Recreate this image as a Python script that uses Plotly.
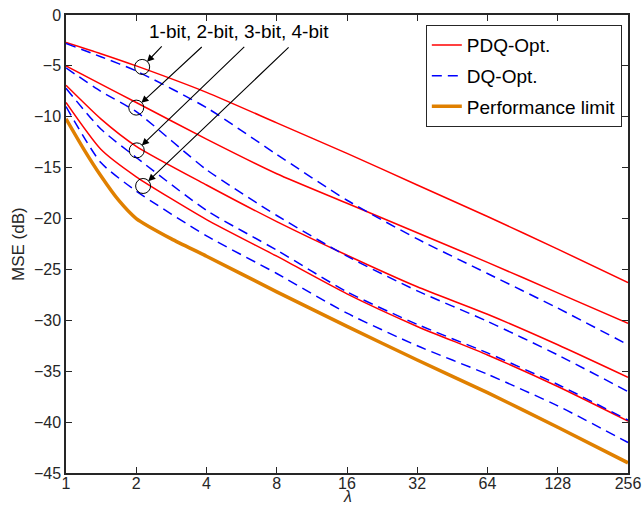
import plotly.graph_objects as go
import numpy as np

# ---------------- data ----------------
lam = [1, 1.41, 2, 4, 8, 16, 32, 64, 128, 256]

pdq_1bit = [-2.7, -3.8, -5.0, -7.6, -10.6, -13.6, -16.7, -19.8, -23.0, -26.3]
pdq_2bit = [-5.0, -6.8, -8.6, -12.2, -15.6, -18.5, -21.4, -24.3, -27.3, -30.3]
pdq_3bit = [-6.9, -10.2, -12.9, -16.7, -20.3, -23.6, -26.7, -29.4, -32.4, -35.6]
pdq_4bit = [-8.6, -13.2, -15.9, -20.1, -23.7, -27.4, -30.6, -33.4, -36.5, -39.9]

dq_1bit = [-2.8, -4.1, -5.5, -9.1, -13.7, -18.2, -22.0, -25.4, -28.8, -32.4]
dq_2bit = [-5.2, -7.5, -9.5, -15.2, -19.7, -23.7, -27.1, -30.1, -33.4, -37.0]
dq_3bit = [-7.2, -11.2, -14.0, -19.2, -23.1, -27.2, -30.4, -33.2, -36.3, -39.8]
dq_4bit = [-9.0, -14.5, -17.3, -21.7, -25.4, -29.3, -32.5, -35.3, -38.4, -42.0]

limit_lam = [1, 1.2, 1.41, 1.68, 2, 2.83, 4, 8, 16, 32, 64, 128, 256]
limit = [-10.2, -13.3, -15.8, -18.2, -20.0, -22.0, -23.7, -27.2, -30.6, -33.9, -37.1, -40.5, -44.0]

circle_lam = [2.12, 2.0, 2.01, 2.14]
circle_mse = [-5.1, -9.1, -13.3, -16.8]

x_ticks = [1, 2, 4, 8, 16, 32, 64, 128, 256]
y_ticks = [0, -5, -10, -15, -20, -25, -30, -35, -40, -45]
annot_text = "1-bit, 2-bit, 3-bit, 4-bit"

# ---------------- figure ----------------
FONT = "Liberation Sans, Arial, sans-serif"
TXT = "#262626"
RED = "#FF0000"
BLUE = "#0000FF"
ORANGE = "#E08000"
SM = 0.6

fig = go.Figure()

for i, s in enumerate([pdq_1bit, pdq_2bit, pdq_3bit, pdq_4bit]):
    fig.add_trace(go.Scatter(x=lam, y=s, mode="lines", name="PDQ-Opt.",
                             line=dict(color=RED, width=1.5, shape="spline", smoothing=SM),
                             legendgroup="pdq", showlegend=(i == 0)))
for i, s in enumerate([dq_1bit, dq_2bit, dq_3bit, dq_4bit]):
    fig.add_trace(go.Scatter(x=lam, y=s, mode="lines", name="DQ-Opt.",
                             line=dict(color=BLUE, width=1.5, dash="10px,6px",
                                       shape="spline", smoothing=SM),
                             legendgroup="dq", showlegend=(i == 0)))
fig.add_trace(go.Scatter(x=limit_lam, y=limit, mode="lines", name="Performance limit",
                         line=dict(color=ORANGE, width=3.5, shape="spline", smoothing=SM),
                         legendgroup="lim", showlegend=True))
fig.add_trace(go.Scatter(x=circle_lam, y=circle_mse, mode="markers",
                         marker=dict(symbol="circle-open", size=15,
                                     color="black", line=dict(width=1, color="black")),
                         showlegend=False, hoverinfo="skip"))

# arrows from the text to the circles (tail offsets in pixels)
tails = [(21, -22), (67, -62), (109, -105), (147, -140)]
for (cx, cy), (ax, ay) in zip(zip(circle_lam, circle_mse), tails):
    fig.add_annotation(x=np.log10(cx), y=cy, xref="x", yref="y",
                       ax=ax, ay=ay, axref="pixel", ayref="pixel",
                       text="", showarrow=True, arrowhead=2, arrowsize=1.3,
                       arrowwidth=1.1, arrowcolor="black", standoff=7)

fig.add_annotation(x=0.308, y=0.963, xref="paper", yref="paper",
                   text=annot_text, showarrow=False,
                   font=dict(family=FONT, size=19, color="black"),
                   xanchor="center", yanchor="middle")

# axis titles as annotations (exact placement)
fig.add_annotation(x=0.5, y=-0.0720, xref="paper", yref="paper", text="<i>λ</i>",
                   showarrow=False, font=dict(family=FONT, size=16, color=TXT),
                   xanchor="center", yanchor="bottom", borderpad=0)
fig.add_annotation(x=-0.0854, y=0.5, xref="paper", yref="paper", text="MSE (dB)",
                   showarrow=False, textangle=-90, font=dict(family=FONT, size=17, color=TXT),
                   xanchor="center", yanchor="middle")

axis_common = dict(showline=True, linecolor=TXT, linewidth=1.5, mirror="ticks",
                   ticks="inside", ticklen=6, tickwidth=1.2, tickcolor=TXT,
                   showgrid=False, zeroline=False, automargin=False,
                   ticklabeloverflow="allow",
                   tickfont=dict(family=FONT, size=16, color=TXT))

fig.update_xaxes(type="log", range=[0, np.log10(256)], tickvals=x_ticks,
                 ticktext=[str(t) for t in x_ticks], **axis_common)
fig.update_yaxes(range=[-45, 0], tickvals=y_ticks, **axis_common)
try:
    fig.update_xaxes(ticklabelstandoff=-5)
except Exception:
    pass

fig.update_layout(
    width=644, height=506,
    margin=dict(l=66, r=16, t=15, b=33),
    plot_bgcolor="white", paper_bgcolor="white",
    font=dict(family=FONT, color=TXT),
    legend=dict(x=0.989, y=0.978, xanchor="right", yanchor="top",
                bgcolor="white", bordercolor=TXT, borderwidth=1,
                font=dict(family=FONT, size=19, color="black"),
                traceorder="grouped", tracegroupgap=3),
)

fig.write_html("out.html",
               config={"displayModeBar": False},
               post_script="document.body.style.margin='0px';"
                           "document.body.style.overflow='hidden';")
